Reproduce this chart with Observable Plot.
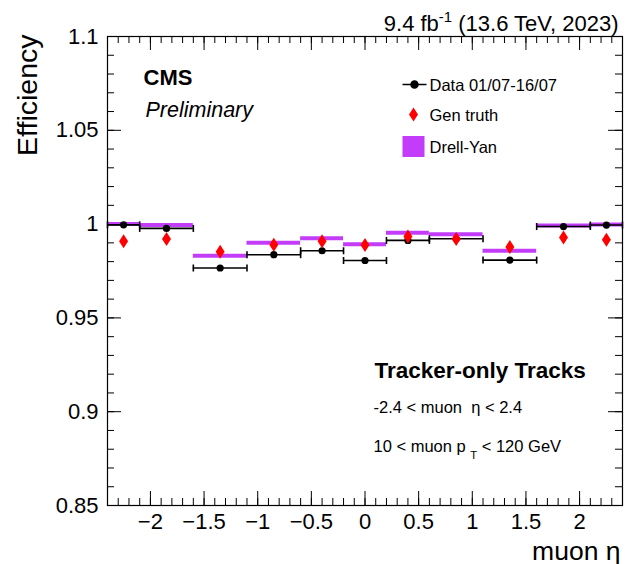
<!DOCTYPE html>
<html><head><meta charset="utf-8">
<script src="https://cdn.jsdelivr.net/npm/d3@7"></script>
<script src="https://cdn.jsdelivr.net/npm/@observablehq/plot@0.6"></script>
<style>body{margin:0;background:#fff;} svg{display:block}</style>
</head><body><div id="chart"></div>
<script>
// ---- data ----
const binLo = [-2.4, -2.1, -1.6, -1.1, -0.6, -0.2, 0.2, 0.6, 1.1, 1.6, 2.1];
const binHi = [-2.1, -1.6, -1.1, -0.6, -0.2, 0.2, 0.6, 1.1, 1.6, 2.1, 2.4];
const etaCenter = [-2.25, -1.85, -1.35, -0.85, -0.4, 0, 0.4, 0.85, 1.35, 1.85, 2.25];
const dataEff = [0.9996, 0.9977, 0.9766, 0.9837, 0.9858, 0.9806, 0.9913, 0.9922, 0.9808, 0.9987, 0.9995];
const genEff  = [0.9908, 0.9920, 0.9853, 0.9890, 0.9908, 0.9888, 0.9934, 0.9920, 0.9878, 0.9929, 0.9917];
const dyEff   = [1.0000, 0.9995, 0.9831, 0.9900, 0.9925, 0.9892, 0.9954, 0.9946, 0.9858, 0.9993, 0.9998];
const xMajorTicks = [-2, -1.5, -1, -0.5, 0, 0.5, 1, 1.5, 2];
const yMajorTicks = [0.85, 0.9, 0.95, 1, 1.05, 1.1];
const legendLabels = ["Data 01/07-16/07", "Gen truth", "Drell-Yan"];
const lumiLabel = "9.4 fb^{-1} (13.6 TeV, 2023)";
const cmsLabel = "CMS";
const prelimLabel = "Preliminary";
const selTitle = "Tracker-only Tracks";
const selEta = "-2.4 < muon  η < 2.4";
const selPt = "10 < muon p _{T} < 120 GeV";
const xTitle = "muon η";
const yTitle = "Efficiency";

// ---- layout ----
const W = 625, H = 564, mL = 107, mR = 3, mT = 36, mB = 59;
const innerW = W - mL - mR, innerH = H - mT - mB;
const FONT = "'Liberation Sans', Arial, Helvetica, sans-serif";
const MAG = "#c33cfa";

const rows = etaCenter.map((x, i) => ({x, lo: binLo[i], hi: binHi[i], data: dataEff[i], gen: genEff[i], dy: dyEff[i]}));
const xMinor = d3.range(-24, 25).map(i => i / 10);
const yMinor = d3.range(85, 111).map(i => i / 100);

const diamond = {draw(ctx) { ctx.moveTo(0, -7); ctx.lineTo(4.5, 0); ctx.lineTo(0, 7); ctx.lineTo(-4.5, 0); ctx.closePath(); }};
const vcap = {draw(ctx) { ctx.moveTo(0, -3.5); ctx.lineTo(0, 3.5); }};
const legLine = {draw(ctx) { ctx.moveTo(-12, 0); ctx.lineTo(12, 0); ctx.moveTo(3.5, 0); ctx.arc(0, 0, 3.5, 0, 2 * Math.PI); }};
const legBox = {draw(ctx) { ctx.rect(-11, -10.5, 22, 21); }};

const txt = (s, o) => Plot.text([s], {text: d => d, frameAnchor: "top-left", textAnchor: "start", lineAnchor: "bottom", fill: "black", ...o});

const plot = Plot.plot({
  width: W, height: H,
  marginLeft: mL, marginRight: mR, marginTop: mT, marginBottom: mB,
  style: {fontFamily: FONT, background: "white", color: "black"},
  x: {domain: [-2.4, 2.4], label: null},
  y: {domain: [0.85, 1.1], label: null},
  marks: [
    // ticks inside the frame
    Plot.ruleX(xMinor, {x: d => d, insetTop: innerH - 7, stroke: "black"}),
    Plot.ruleX(xMinor, {x: d => d, insetBottom: innerH - 7, stroke: "black"}),
    Plot.ruleX(xMajorTicks, {x: d => d, insetTop: innerH - 14, stroke: "black"}),
    Plot.ruleX(xMajorTicks, {x: d => d, insetBottom: innerH - 14, stroke: "black"}),
    Plot.ruleY(yMinor, {y: d => d, insetRight: innerW - 7, stroke: "black"}),
    Plot.ruleY(yMinor, {y: d => d, insetLeft: innerW - 7, stroke: "black"}),
    Plot.ruleY(yMajorTicks, {y: d => d, insetRight: innerW - 14, stroke: "black"}),
    Plot.ruleY(yMajorTicks, {y: d => d, insetLeft: innerW - 14, stroke: "black"}),
    Plot.axisX({ticks: xMajorTicks, tickSize: 0, tickPadding: 8, fontSize: 22, tickFormat: d3.format("~f")}),
    Plot.axisY({ticks: yMajorTicks, tickSize: 0, tickPadding: 9, fontSize: 22, tickFormat: d => String(+d.toFixed(2))}),
    Plot.frame({stroke: "black", strokeWidth: 1.2}),
    // Drell-Yan bands
    Plot.ruleY(rows, {y: "dy", x1: "lo", x2: "hi", stroke: MAG, strokeWidth: 4}),
    // Data: horizontal error bars, caps, markers
    Plot.ruleY(rows, {y: "data", x1: "lo", x2: "hi", stroke: "black", strokeWidth: 1.6}),
    Plot.dot(rows, {x: "lo", y: "data", symbol: vcap, stroke: "black", strokeWidth: 1.6, fill: "none"}),
    Plot.dot(rows, {x: "hi", y: "data", symbol: vcap, stroke: "black", strokeWidth: 1.6, fill: "none"}),
    Plot.dot(rows, {x: "x", y: "data", r: 3.6, fill: "black", stroke: "none"}),
    // Gen truth
    Plot.dot(rows, {x: "x", y: "gen", symbol: diamond, fill: "#ff0000", stroke: "none"}),
    // legend
    Plot.dot([0], {frameAnchor: "top-left", dx: 307, dy: 48, symbol: legLine, fill: "black", stroke: "black", strokeWidth: 1.5}),
    Plot.dot([0], {frameAnchor: "top-left", dx: 306, dy: 78, symbol: diamond, fill: "#ff0000", stroke: "none"}),
    Plot.dot([0], {frameAnchor: "top-left", dx: 306, dy: 110, symbol: legBox, fill: MAG, stroke: "none"}),
    txt(legendLabels[0], {dx: 322, dy: 49, lineAnchor: "middle", fontSize: 16.5}),
    txt(legendLabels[1], {dx: 322, dy: 79, lineAnchor: "middle", fontSize: 16.5}),
    txt(legendLabels[2], {dx: 322, dy: 111, lineAnchor: "middle", fontSize: 16.5}),
    // CMS labels
    txt(cmsLabel, {dx: 36, dy: 48, fontSize: 22, fontWeight: "bold"}),
    txt(prelimLabel, {dx: 38, dy: 80, fontSize: 21.5, fontStyle: "italic"}),
    // selection text
    txt(selTitle, {dx: 267, dy: 341, fontSize: 22.5, fontWeight: "bold"}),
    txt(selEta, {dx: 266, dy: 376, fontSize: 16.5}),
    txt(selPt, {dx: 266, dy: 415, fontSize: 16.5}),
    // lumi label
    txt(lumiLabel, {frameAnchor: "top-right", textAnchor: "end", dx: -4, dy: -6, fontSize: 22}),
    // axis titles
    txt(xTitle, {frameAnchor: "bottom-right", textAnchor: "end", dx: -2, dy: 54, fontSize: 26.5}),
    txt(yTitle, {frameAnchor: "top-left", textAnchor: "end", rotate: -90, dx: -71, dy: -2, fontSize: 28.5})
  ]
});

// super/subscripts
plot.querySelectorAll("text").forEach(t => {
  const s = t.textContent;
  if (!/[\^_]\{/.test(s)) return;
  while (t.firstChild) t.removeChild(t.firstChild);
  const ns = "http://www.w3.org/2000/svg";
  const re = /([\^_])\{([^}]*)\}/g;
  let last = 0, m, shift = 0;
  const add = (str, dy, fs) => {
    const sp = document.createElementNS(ns, "tspan");
    sp.textContent = str;
    if (dy) sp.setAttribute("dy", dy);
    if (fs) sp.setAttribute("font-size", fs);
    t.appendChild(sp);
  };
  while ((m = re.exec(s))) {
    if (m.index > last) { add(s.slice(last, m.index), -shift); shift = 0; }
    const sup = m[1] === "^";
    const d = sup ? -9 : 7;
    add(m[2], d - shift, "0.68em");
    shift = d;
    last = re.lastIndex;
  }
  if (last < s.length) add(s.slice(last), -shift);
});

document.getElementById("chart").appendChild(plot);
</script>
</body></html>
